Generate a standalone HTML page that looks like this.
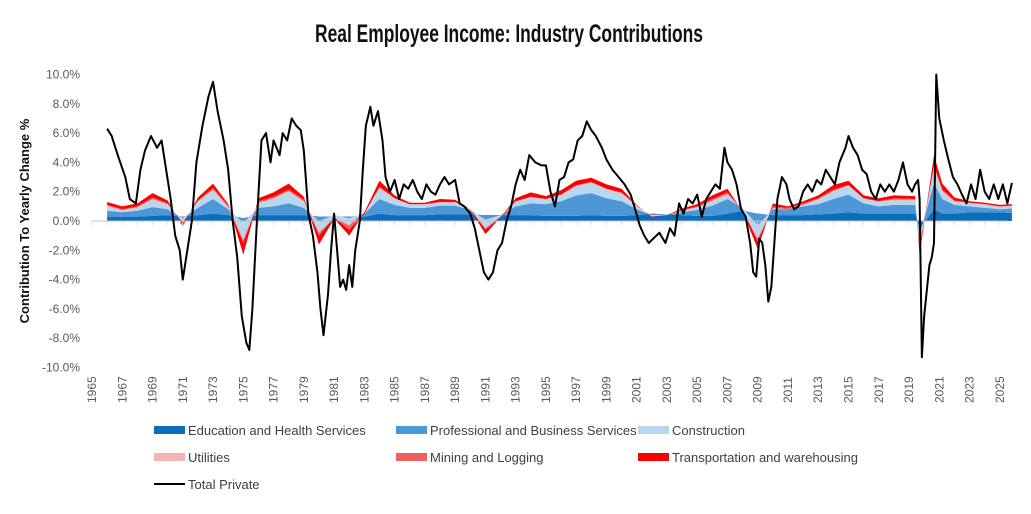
<!DOCTYPE html>
<html><head><meta charset="utf-8"><style>
body{margin:0;background:#fff;}
svg text{font-family:"Liberation Sans",sans-serif;}
</style></head><body>
<svg id="chart" width="1031" height="509" xmlns="http://www.w3.org/2000/svg">
<text x="315" y="42" textLength="388" lengthAdjust="spacingAndGlyphs" style="font-weight:bold;font-size:25px" fill="#111">Real Employee Income: Industry Contributions</text>
<text transform="translate(29,221) rotate(-90)" text-anchor="middle" font-size="13" font-weight="bold" fill="#111">Contribution To Yearly Change %</text>
<g id="grid"></g><g id="areas"></g><g id="axis"></g><g id="line"></g><g id="legend"></g>
</svg>
<script>
const years=[1966,1967,1968,1969,1970,1971,1972,1973,1974,1975,1976,1977,1978,1979,1980,1981,1982,1983,1984,1985,1986,1987,1988,1989,1990,1991,1992,1993,1994,1995,1996,1997,1998,1999,2000,2001,2002,2003,2004,2005,2006,2007,2008,2009,2010,2011,2012,2013,2014,2015,2016,2017,2018,2019.4,2019.7,2020.65,2021.2,2022,2023,2024,2025,2025.8];
const eduHealth=[.3,.3,.3,.35,.4,.3,.4,.5,.4,.2,.4,.4,.4,.4,.3,.3,.3,.3,.5,.4,.4,.4,.45,.45,.45,.4,.4,.4,.4,.35,.35,.35,.4,.35,.35,.4,.5,.45,.4,.35,.35,.5,.7,.5,.4,.4,.4,.45,.5,.6,.5,.5,.5,.5,-.5,.8,.5,.5,.6,.6,.6,.55];
const profBusiness=[.4,.3,.4,.6,.4,-.1,.5,1.0,.4,-.3,.5,.6,.8,.5,-.3,.1,-.1,.2,1.0,.7,.5,.5,.6,.6,.3,-.3,0,.6,.8,.8,1.0,1.4,1.5,1.2,1.0,.4,-.1,0,.2,.4,.7,1.0,.2,-.8,.4,.4,.6,.7,1.0,1.2,.7,.5,.6,.6,-.5,1.8,1.0,.6,.4,.3,.2,.3];
const construction=[.3,.1,.2,.5,.3,-.3,.4,.6,.1,-1.2,.3,.5,.8,.4,-.8,-.2,-.5,.1,.7,.4,.3,.2,.2,.2,0,-.6,-.1,.3,.4,.3,.4,.6,.7,.6,.5,.2,-.1,-.05,.1,.2,.3,.3,-.2,-.9,.1,0,.1,.3,.5,.6,.4,.3,.3,.3,-.6,1.0,.5,.2,.2,.2,.15,.15];
const utilities=[.05,.05,.05,.05,.05,0,.05,.05,.05,0,.05,.05,.05,.05,0,0,0,0,.05,.05,.05,.05,.05,.05,.05,0,0,.05,.05,.05,.05,.05,.05,.05,.05,.05,0,0,0,0,.05,.05,0,0,0,0,0,.05,.05,.05,.05,.05,.05,.05,0,.1,.05,.05,.05,.05,.05,.05];
const miningLogging=[.05,.05,.05,.1,.05,-.05,.05,.1,.1,-.2,.1,.1,.1,.1,-.2,.05,-.3,-.1,.1,0,-.1,0,0,0,0,-.1,-.05,0,0,0,0,.05,0,0,.05,0,0,0,.05,.05,.1,.1,.05,-.2,.1,.1,.1,.05,.1,0,-.1,0,.1,.05,-.2,.1,.1,.05,0,0,0,0];
const transportation=[.2,.2,.2,.3,.2,-.2,.2,.3,.1,-.8,.2,.3,.4,.2,-.6,-.1,-.4,.1,.4,.2,.1,.1,.2,.15,0,-.3,0,.2,.3,.2,.3,.3,.3,.3,.25,.05,-.05,0,.1,.15,.25,.25,-.1,-.5,.2,.1,.15,.2,.3,.3,.2,.2,.2,.2,-.5,.7,.4,.2,.1,.1,.1,.1];
const lineYears=[1966,1966.3,1966.7,1967.2,1967.5,1967.9,1968.2,1968.5,1968.9,1969.3,1969.6,1969.9,1970.2,1970.5,1970.8,1971.0,1971.3,1971.6,1971.9,1972.3,1972.7,1973.0,1973.3,1973.7,1974.0,1974.3,1974.6,1974.9,1975.2,1975.4,1975.6,1975.9,1976.2,1976.5,1976.8,1977.0,1977.4,1977.6,1977.9,1978.2,1978.5,1978.8,1979.0,1979.3,1979.6,1979.9,1980.1,1980.3,1980.6,1980.8,1981.0,1981.2,1981.4,1981.6,1981.8,1982.0,1982.2,1982.4,1982.7,1982.9,1983.1,1983.4,1983.6,1983.9,1984.2,1984.4,1984.7,1985.0,1985.3,1985.6,1985.9,1986.2,1986.5,1986.8,1987.1,1987.4,1987.7,1988.0,1988.3,1988.6,1989.0,1989.3,1989.6,1990.0,1990.3,1990.6,1990.9,1991.2,1991.5,1991.8,1992.1,1992.4,1992.7,1993.0,1993.3,1993.6,1993.9,1994.3,1994.7,1995.0,1995.3,1995.6,1995.9,1996.2,1996.5,1996.8,1997.1,1997.4,1997.7,1998.0,1998.3,1998.7,1999.0,1999.4,1999.8,2000.2,2000.6,2000.9,2001.2,2001.5,2001.8,2002.1,2002.5,2002.9,2003.2,2003.5,2003.8,2004.1,2004.4,2004.7,2005.0,2005.3,2005.6,2005.9,2006.2,2006.5,2006.8,2007.0,2007.3,2007.6,2007.9,2008.2,2008.5,2008.7,2008.9,2009.1,2009.3,2009.5,2009.7,2009.9,2010.1,2010.3,2010.6,2010.9,2011.1,2011.4,2011.7,2012.0,2012.3,2012.6,2012.9,2013.2,2013.5,2013.8,2014.1,2014.4,2014.8,2015.0,2015.3,2015.6,2015.9,2016.2,2016.5,2016.8,2017.1,2017.4,2017.7,2018.0,2018.3,2018.6,2018.9,2019.2,2019.4,2019.6,2019.7,2019.85,2020.0,2020.2,2020.35,2020.5,2020.65,2020.8,2021.0,2021.3,2021.6,2021.9,2022.2,2022.5,2022.8,2023.1,2023.4,2023.7,2024.0,2024.3,2024.6,2024.9,2025.2,2025.5,2025.8];
const totalPrivate=[6.3,5.8,4.5,3.0,1.5,1.2,3.5,4.8,5.8,5.0,5.5,3.5,1.5,-1.0,-2.0,-4.0,-2.0,0,4.0,6.5,8.5,9.5,7.5,5.5,3.5,0,-2.5,-6.5,-8.3,-8.8,-6.0,0,5.5,6.0,4.0,5.5,4.5,6.0,5.5,7.0,6.5,6.2,4.8,0.5,-1.0,-3.5,-6.0,-7.8,-5.0,-2.0,0.5,-2.0,-4.5,-4.0,-4.7,-3.0,-4.5,-2.0,0,3.5,6.5,7.8,6.5,7.5,5.5,3.0,2.0,2.8,1.5,2.5,2.2,2.8,2.0,1.5,2.5,2.0,1.8,2.5,3.0,2.5,2.8,1.2,1.0,0.5,-0.5,-2.0,-3.5,-4.0,-3.5,-2.0,-1.5,0,1.0,2.5,3.5,2.8,4.5,4.0,3.8,3.8,2.0,1.0,2.8,3.0,4.0,4.2,5.5,5.8,6.8,6.2,5.8,5.0,4.2,3.5,3.0,2.5,1.8,0.8,-0.3,-1.0,-1.5,-1.2,-0.8,-1.5,-0.5,-1.0,1.2,0.5,1.5,1.2,1.8,0.3,1.5,2.0,2.5,2.2,5.0,4.0,3.5,2.5,0.8,0.3,-1.5,-3.5,-3.8,-1.2,-1.5,-3.0,-5.5,-4.5,-1.5,1.5,3.0,2.5,1.5,0.8,1.0,2.0,2.5,2.0,2.8,2.5,3.5,3.0,2.5,4.0,5.0,5.8,5.0,4.5,3.5,3.2,2.0,1.5,2.5,2.0,2.5,2.0,2.8,4.0,2.5,2.0,2.5,2.8,1.5,-9.3,-6.5,-4.5,-3.0,-2.5,-1.5,10.0,7.0,5.5,4.2,3.0,2.5,1.8,1.2,2.5,1.5,3.5,2.0,1.5,2.5,1.5,2.5,1.2,2.6];
const yTicks=[10,8,6,4,2,0,-2,-4,-6,-8,-10];
const xTickYears=[1965,1967,1969,1971,1973,1975,1977,1979,1981,1983,1985,1987,1989,1991,1993,1995,1997,1999,2001,2003,2005,2007,2009,2011,2013,2015,2017,2019,2021,2023,2025];
const seriesNames=["Education and Health Services","Professional and Business Services","Construction","Utilities","Mining and Logging","Transportation and warehousing"];
const seriesColors=["#0a6ebd","#4d97d6","#b9d6ef","#f6b3b3","#f25f5f","#ff0000"];
const NS="http://www.w3.org/2000/svg";
const X=y=>92+(y-1965)*15.13;
const Y=v=>221-v*14.65;
function mk(tag,attrs,parent){const e=document.createElementNS(NS,tag);for(const k in attrs)e.setAttribute(k,attrs[k]);parent.appendChild(e);return e;}
const grid=document.getElementById('grid'),axis=document.getElementById('axis'),areas=document.getElementById('areas'),lineG=document.getElementById('line'),leg=document.getElementById('legend');
yTicks.forEach(v=>{const t=mk('text',{x:80,y:Y(v)+4,'text-anchor':'end','font-size':12,fill:'#595959'},axis);


t.textContent=v.toFixed(1)+'%';});
const zl=mk('line',{x1:92,x2:1008,y1:Y(0),y2:Y(0),stroke:'#bfbfbf','stroke-width':1},axis);


for(let yr=1965;yr<=2025;yr++){const tk=mk('line',{x1:X(yr),x2:X(yr),y1:Y(0),y2:Y(0)+4,stroke:'#d9d9d9'},axis);

}
xTickYears.forEach(yr=>{const t=mk('text',{transform:`translate(${X(yr)+4},403) rotate(-90)`,'font-size':12,fill:'#595959'},axis);


t.textContent=yr;});
const series=[eduHealth,profBusiness,construction,utilities,miningLogging,transportation];
const cum=years.map(()=>0);
series.forEach((s,si)=>{const lo=cum.slice();s.forEach((v,i)=>cum[i]+=v);
let d='M'+years.map((yr,i)=>X(yr)+','+Y(cum[i])).join('L');
for(let i=years.length-1;i>=0;i--)d+='L'+X(years[i])+','+Y(lo[i]);
const p=mk('path',{d:d+'Z',fill:seriesColors[si],stroke:'none'},areas);

});
const tl=mk('path',{d:'M'+lineYears.map((yr,i)=>X(yr)+','+Y(totalPrivate[i])).join('L'),fill:'none',stroke:'#000','stroke-width':2,'stroke-linejoin':'round'},lineG);


const lp=[[154,430],[396,430],[638,430],[154,457],[396,457],[638,457]];
seriesNames.forEach((n,i)=>{const g=mk('g',{},leg);


mk('rect',{x:lp[i][0],y:lp[i][1]-4,width:31,height:8,fill:seriesColors[i]},g);
const t=mk('text',{x:lp[i][0]+34,y:lp[i][1]+5,'font-size':13,fill:'#404040'},g);t.textContent=n;});
const g=mk('g',{},leg);


mk('line',{x1:154,x2:185,y1:484,y2:484,stroke:'#000','stroke-width':2},g);
const t=mk('text',{x:188,y:489,'font-size':13,fill:'#404040'},g);t.textContent='Total Private';
</script>
</body></html>
